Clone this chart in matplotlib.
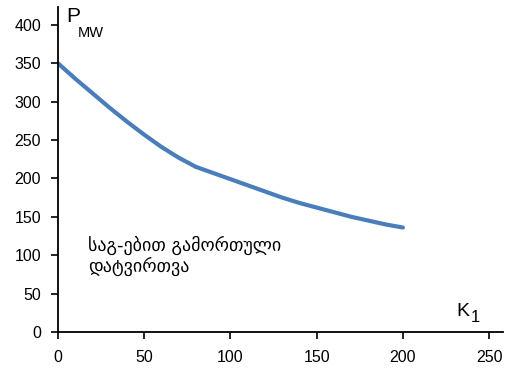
import matplotlib.pyplot as plt

# values
k1 = [0, 10, 20, 30, 40, 50, 60, 70, 80, 90, 100,
      110, 120, 130, 140, 150, 160, 170, 180, 190, 200]
p_mw = [350, 330, 311, 292, 274, 257, 241, 227, 215, 207, 199,
        191, 183, 175, 168, 162, 156, 150, 145, 140, 136]
x_ticks = [0, 50, 100, 150, 200, 250]
y_ticks = [0, 50, 100, 150, 200, 250, 300, 350, 400]
note = "საგ-ებით გამორთული\nდატვირთვა"

plt.rcParams['font.family'] = ['Liberation Sans', 'DejaVu Sans']

fig = plt.figure(figsize=(5.07, 3.73), dpi=100)
ax = fig.add_axes([0.114, 0.11, 0.878, 0.871])

ax.plot(k1, p_mw, color="#4a7ebb", linewidth=3,
        solid_capstyle="round", solid_joinstyle="round")

ax.set_xlim(0, 258)
ax.set_ylim(0, 423)
ax.set_xticks(x_ticks)
ax.set_yticks(y_ticks)
ax.tick_params(axis="both", direction="out", length=5, width=1.2, labelsize=11.5)
ax.tick_params(axis="x", pad=8)
ax.tick_params(axis="y", pad=7)
for side in ["top", "right"]:
    ax.spines[side].set_visible(False)
for side in ["left", "bottom"]:
    ax.spines[side].set_linewidth(1.3)

# axis captions drawn as plain text like in the original
ax.text(4.7, 423, "P", fontsize=15, va="top", ha="left")
ax.text(11.6, 398, "MW", fontsize=10.5, va="top", ha="left")
ax.text(231, 21, "K", fontsize=14, va="baseline", ha="left")
ax.text(239.5, 13, "1", fontsize=12, va="baseline", ha="left")

ax.text(17.4, 125, note, fontsize=13, va="top", ha="left",
        family=["DejaVu Sans"], linespacing=1.1)

fig.savefig("out.png", dpi=100)
